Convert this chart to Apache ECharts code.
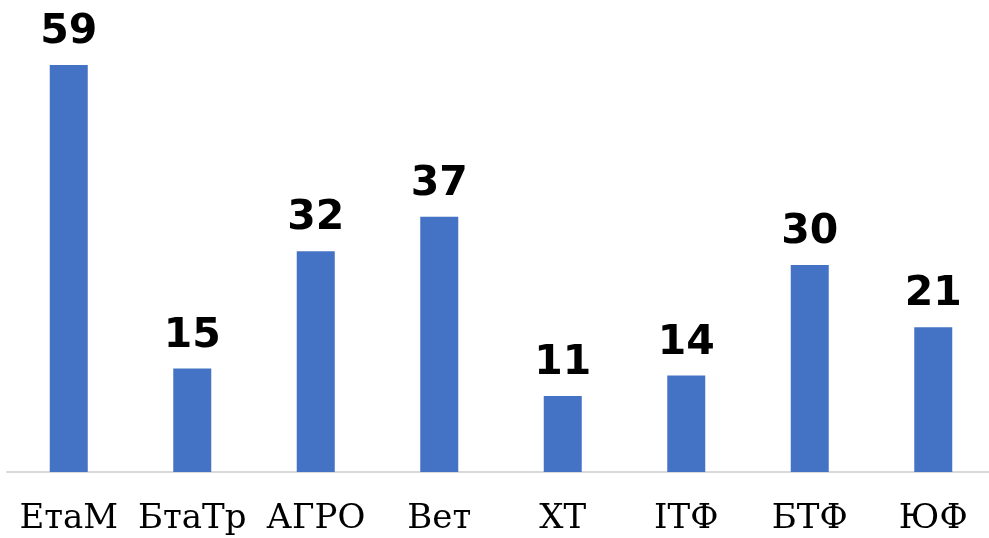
<!DOCTYPE html>
<html>
<head>
<meta charset="utf-8">
<script src="https://cdn.jsdelivr.net/npm/echarts@6/dist/echarts.min.js"></script>
<style>
  html, body { margin: 0; padding: 0; background: #fff; }
  #main { width: 989px; height: 538px; }
</style>
</head>
<body>
<div id="main"></div>
<script>
// категорії та значення
var categories = ['ЕтаМ', 'БтаТр', 'АГРО', 'Вет', 'ХТ', 'ІТФ', 'БТФ', 'ЮФ']
var values = [59, 15, 32, 37, 11, 14, 30, 21]

var myChart = echarts.init(document.getElementById('main'))

myChart.setOption({
  animation: false,
  grid: { left: 7, top: 65, right: -6, bottom: 66, outerBoundsMode: 'none' },
  xAxis: {
    type: 'category',
    data: categories,
    axisLine: { lineStyle: { color: '#d9d9d9', width: 2 } },
    axisTick: { show: false },
    axisLabel: {
      interval: 0,
      margin: 30,
      color: '#000',
      fontFamily: 'DejaVu Serif',
      fontSize: 34
    }
  },
  yAxis: {
    type: 'value',
    min: 0,
    max: 59,
    show: false,
    splitLine: { show: false }
  },
  series: [{
    type: 'bar',
    data: values,
    barWidth: 38,
    itemStyle: { color: '#4472c4' },
    label: {
      show: true,
      position: 'top',
      distance: 12,
      color: '#000',
      fontFamily: 'DejaVu Sans',
      fontWeight: 'bold',
      fontSize: 41
    }
  }]
})

window.onresize = function () {
  myChart.resize()
}
</script>
</body>
</html>
